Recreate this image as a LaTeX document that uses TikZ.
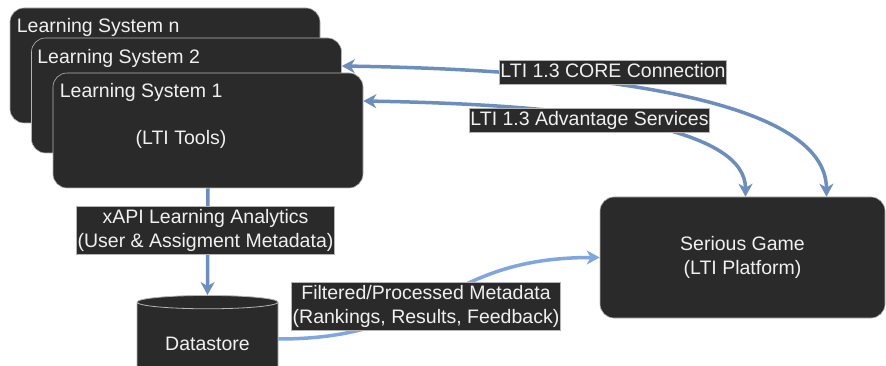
\documentclass[tikz,border=0pt]{standalone}
\usepackage{fontspec}
\setmainfont{Liberation Sans}
\usetikzlibrary{arrows.meta, positioning, shapes.geometric}
\definecolor{boxfill}{HTML}{2A2A2A}
\definecolor{boxline}{HTML}{B4B4B4}
\definecolor{flowblue}{HTML}{6C8EBF}
\definecolor{lightblue}{HTML}{7EA6E0}
\definecolor{txt}{HTML}{F0F0F0}

\begin{document}
\begin{tikzpicture}[x=1pt, y=-1pt, >={Stealth[length=13pt, width=14pt, inset=4pt]},
  font=\fontsize{19.5}{24}\selectfont, text=txt,
  sysbox/.style={draw=boxline, line width=0.6pt, fill=boxfill, rounded corners=14pt, minimum width=310pt, minimum height=115pt},
  systitle/.style={anchor=base west, inner sep=0pt},
  store/.style={cylinder, shape border rotate=90, aspect=2, draw=boxline, line width=0.8pt, fill=boxfill, minimum width=141pt, minimum height=78pt},
  flow/.style={draw=flowblue, line width=3.5pt},
  lbl/.style={fill=boxfill, draw=boxline, line width=0.4pt, inner xsep=1pt, inner ysep=3pt, align=center,
    execute at begin node=\vphantom{(}, execute at end node=\vphantom{(}}]
\useasboundingbox (0,0) rectangle (886,366);
\clip (0,0) rectangle (886,366);

% learning systems
\node[sysbox] (sysn) at (165,65.5) {};
\node[systitle] (sysnt) at ([shift={(7pt,-25pt)}]sysn.north west) {Learning System n};
\node[sysbox] (sys2) at (186.5,95.5) {};
\node[systitle] (sys2t) at ([shift={(6pt,-26pt)}]sys2.north west) {Learning System 2};
\node[sysbox] (sys1) at (208,130.5) {};
\node[systitle] (sys1t) at ([shift={(7pt,-25pt)}]sys1.north west) {Learning System 1};
\node[inner sep=0pt, anchor=base] (tools) at (181,145) {(LTI Tools)};

% platform and datastore
\node[sysbox, minimum width=285pt, minimum height=121pt, align=center] (game) at (742.5,257.5) {Serious Game\\(LTI Platform)};
\node[store] (store) at (207.5,339) {};
\node (storetxt) at (207.5,344) {Datastore};

% connections
\draw[flow, ->] (sys1.south) -- (store.north);
\draw[flow, <->] ([yshift=29.5pt]sys2.east) .. controls (600,70) and (826,100) .. ([xshift=84pt]game.north);
\draw[flow, <->] ([yshift=29.5pt]sys1.east) .. controls (600,105) and (745.5,130) .. ([xshift=3pt]game.north);
\draw[flow, draw=lightblue, ->] (store.east) .. controls +(160,0) and +(-160,0) .. (game.west);

\node[lbl] (core) at (613,72) {LTI 1.3 CORE Connection};
\node[lbl] (adv) at (589.5,120) {LTI 1.3 Advantage Services};
\node[lbl] (xapi) at (205.5,230.5) {xAPI Learning Analytics\\(User \& Assigment Metadata)};
\node[lbl] (filt) at (426,306.5) {Filtered/Processed Metadata\\(Rankings, Results, Feedback)};
\end{tikzpicture}
\end{document}
